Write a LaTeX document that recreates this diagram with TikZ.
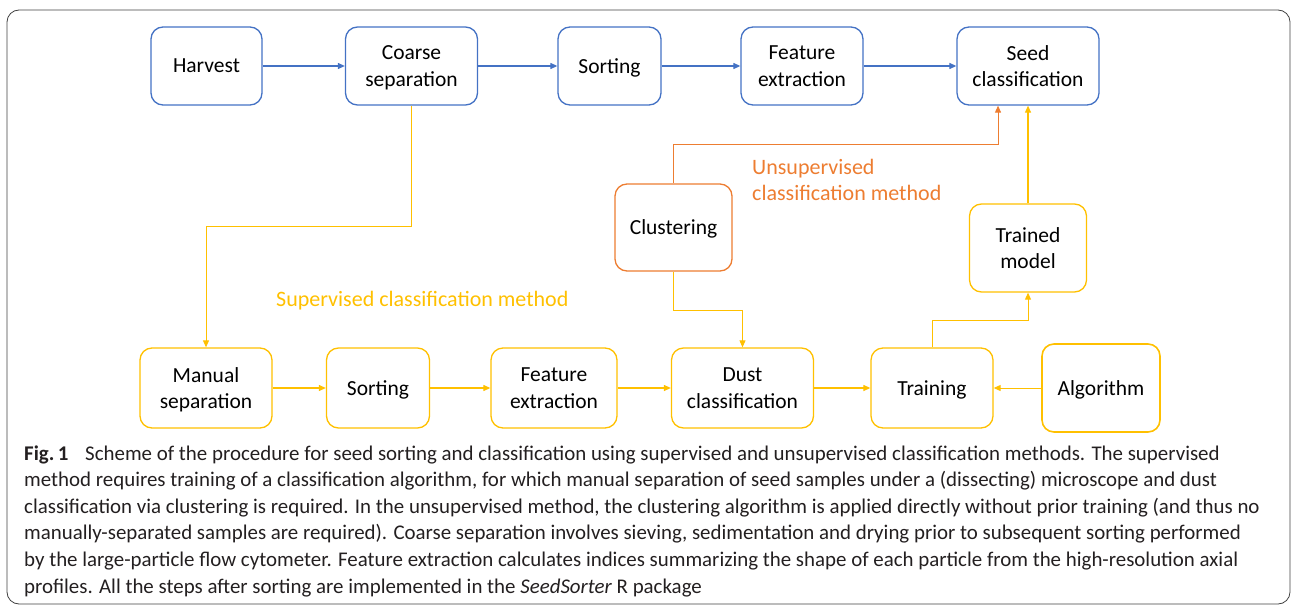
\documentclass[tikz,border=0pt]{standalone}
\usepackage{fontspec}
\setmainfont{Carlito}
\newfontfamily\capfont{Carlito}
\usetikzlibrary{arrows.meta}
\definecolor{cblue}{HTML}{4472C4}
\definecolor{corange}{HTML}{ED7D31}
\definecolor{cyellow}{HTML}{FFC000}
\definecolor{cframe}{HTML}{404040}
\definecolor{ctext}{HTML}{231F20}
\tikzset{
  box/.style={draw, rounded corners=12pt, line width=1.3pt, inner sep=0pt, align=center,
    font=\fontsize{21.5}{26.5}\selectfont, text=black, text depth=0pt},
  bbox/.style={box, draw=cblue},
  obox/.style={box, draw=corange},
  ybox/.style={box, draw=cyellow},
  arr/.style={line width=1.2pt, -{Triangle[length=7pt,width=6pt]}},
  barr/.style={arr, draw=cblue},
  oarr/.style={arr, draw=corange, line width=1pt},
  yarr/.style={arr, draw=cyellow},
  ythin/.style={arr, draw=cyellow, line width=1pt},
  lab/.style={inner sep=0pt, anchor=west, font=\fontsize{22}{26}\selectfont},
  capline/.style={anchor=base west, inner sep=0pt, font=\capfont\fontsize{20.9}{26}\selectfont, text=ctext},
}
\begin{document}
\begin{tikzpicture}[x=1pt,y=-1pt]
\useasboundingbox (0,0) rectangle (1292,607);
\draw[cframe, line width=0.8pt, rounded corners=12pt] (7,10) rectangle (1290,604);
% top row
\node[bbox, minimum width=111pt, minimum height=78pt] (harvest) at (206.5,66) {Harvest};
\node[bbox, minimum width=132pt, minimum height=78pt] (coarse) at (411.5,66) {Coarse\\separation};
\node[bbox, minimum width=103pt, minimum height=78pt] (sort1) at (609.5,66) {Sorting};
\node[bbox, minimum width=122pt, minimum height=78pt] (feat1) at (802,66) {Feature\\extraction};
\node[bbox, minimum width=142pt, minimum height=78pt] (seed) at (1028,66) {Seed\\classification};
% middle
\node[obox, minimum width=117pt, minimum height=87pt] (clust) at (673.5,227.5) {Clustering};
\node[ybox, minimum width=117pt, minimum height=88pt] (trained) at (1028,248) {Trained\\model};
% bottom row
\node[ybox, minimum width=132pt, minimum height=80pt] (manual) at (206,388) {Manual\\separation};
\node[ybox, minimum width=103pt, minimum height=80pt] (sort2) at (378,388) {Sorting};
\node[ybox, minimum width=126pt, minimum height=80pt] (feat2) at (554,388) {Feature\\extraction};
\node[ybox, minimum width=142pt, minimum height=80pt] (dust) at (742.5,388) {Dust\\classification};
\node[ybox, minimum width=122pt, minimum height=80pt] (train) at (932,388) {Training};
\node[ybox, minimum width=118pt, minimum height=88pt, line width=1.6pt] (algo) at (1101,388) {Algorithm};
% labels
\node[lab, text=corange, align=left] (ulab) at (752,180) {Unsupervised\\classification method};
\node[lab, text=cyellow] (slab) at (276,301) {Supervised classification method};
% top arrows
\draw[barr] (harvest) -- (coarse);
\draw[barr] (coarse) -- (sort1);
\draw[barr] (sort1) -- (feat1);
\draw[barr] (feat1) -- (seed);
% bottom arrows
\draw[yarr] (manual) -- (sort2);
\draw[yarr] (sort2) -- (feat2);
\draw[yarr] (feat2) -- (dust);
\draw[yarr] (dust) -- (train);
\draw[ythin] (algo) -- (train);
% connectors
\draw[ythin] (coarse.south) -- ++(0,121) -| (manual.north);
\draw[oarr] (clust.north) -- ++(0,-39) -| ([xshift=-30pt]seed.south);
\draw[ythin] (clust.south) -- ++(0,39) -| (dust.north);
\draw[ythin] (train.north) -- ++(0,-27) -| (trained.south);
\draw[yarr] (trained.north) -- (seed.south);
% caption
\node[capline] (c1) at (24,460) {\textbf{Fig.\,1}\hspace{0.8em}Scheme of the procedure for seed sorting and classification using supervised and unsupervised classification methods. The supervised};
\node[capline] (c2) at (24,486.6) {method requires training of a classification algorithm, for which manual separation of seed samples under a (dissecting) microscope and dust};
\node[capline] (c3) at (24,513.2) {classification via clustering is required. In the unsupervised method, the clustering algorithm is applied directly without prior training (and thus no};
\node[capline] (c4) at (24,539.8) {manually-separated samples are required). Coarse separation involves sieving, sedimentation and drying prior to subsequent sorting performed};
\node[capline] (c5) at (24,566.4) {by the large-particle flow cytometer. Feature extraction calculates indices summarizing the shape of each particle from the high-resolution axial};
\node[capline] (c6) at (24,593) {profiles. All the steps after sorting are implemented in the \textit{SeedSorter} R package};
\end{tikzpicture}
\end{document}
